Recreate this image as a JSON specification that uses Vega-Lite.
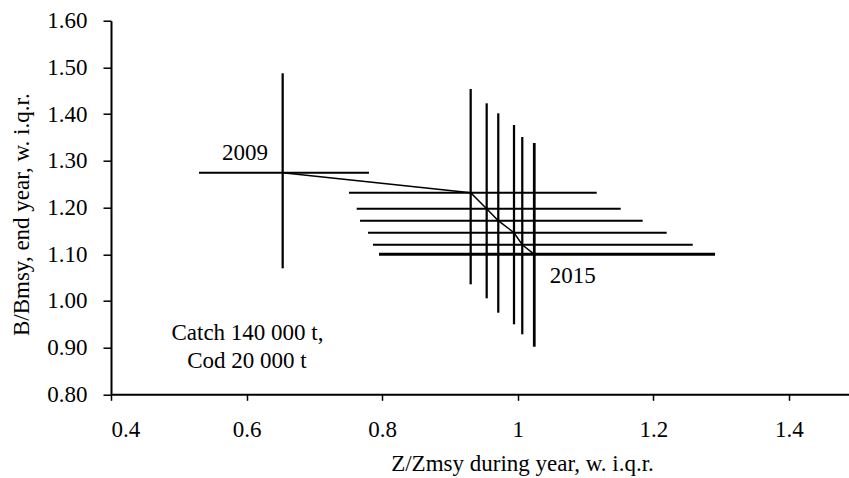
{
  "$schema": "https://vega.github.io/schema/vega-lite/v6.json",
  "width": 738,
  "height": 373.6,
  "autosize": {"type": "none"},
  "padding": {"left": 111, "top": 20.7, "right": 0, "bottom": 83.7},
  "background": "white",
  "config": {
    "view": {"stroke": null},
    "font": "Liberation Serif",
    "axis": {
      "grid": false,
      "domainColor": "black",
      "domainWidth": 2,
      "tickColor": "black",
      "tickWidth": 1.5,
      "labelFont": "Liberation Serif",
      "labelFontSize": 23,
      "labelColor": "black",
      "titleFont": "Liberation Serif",
      "titleFontSize": 23,
      "titleFontWeight": "normal",
      "titleColor": "black"
    }
  },
  "datasets": {
    "years": [
      {"year": 2009, "x": 0.6532, "xlo": 0.5298, "xhi": 0.7805, "y": 1.2745, "ylo": 1.0698, "yhi": 1.4874},
      {"year": 2010, "x": 0.9305, "xlo": 0.7510, "xhi": 1.1164, "y": 1.2317, "ylo": 1.0355, "yhi": 1.4537},
      {"year": 2011, "x": 0.9541, "xlo": 0.7624, "xhi": 1.1518, "y": 1.1974, "ylo": 1.0056, "yhi": 1.4231},
      {"year": 2012, "x": 0.9712, "xlo": 0.7673, "xhi": 1.1842, "y": 1.1717, "ylo": 0.9747, "yhi": 1.4017},
      {"year": 2013, "x": 0.9944, "xlo": 0.7791, "xhi": 1.2196, "y": 1.1460, "ylo": 0.9499, "yhi": 1.3767},
      {"year": 2014, "x": 1.0066, "xlo": 0.7864, "xhi": 1.2580, "y": 1.1203, "ylo": 0.9285, "yhi": 1.3510},
      {"year": 2015, "x": 1.0243, "xlo": 0.7953, "xhi": 1.2909, "y": 1.0998, "ylo": 0.9019, "yhi": 1.3381}
    ],
    "notes": [
      {"label": "2009", "tx": 0.5976, "ty": 1.3017},
      {"label": "2015", "tx": 1.081, "ty": 1.0377},
      {"label": "Catch 140 000 t,", "tx": 0.6013, "ty": 0.9163},
      {"label": "Cod 20 000 t", "tx": 0.6006, "ty": 0.8557}
    ]
  },
  "layer": [
    {
      "data": {"name": "years"},
      "mark": {"type": "rule", "color": "black"},
      "encoding": {
        "x": {
          "field": "xlo", "type": "quantitative",
          "scale": {"domain": [0.4, 1.4885], "nice": false, "zero": false},
          "axis": {
            "values": [0.4, 0.6, 0.8, 1, 1.2, 1.4],
            "format": "~g",
            "tickSize": 6,
            "labelPadding": 18.5,
            "labelBaseline": "top",
            "title": "Z/Zmsy during year, w. i.q.r.",
            "titleX": 411,
            "titleY": 75.7,
            "titleAlign": "center",
            "titleBaseline": "alphabetic"
          }
        },
        "x2": {"field": "xhi"},
        "y": {
          "field": "y", "type": "quantitative",
          "scale": {"domain": [0.8, 1.6], "nice": false, "zero": false},
          "axis": {
            "values": [0.8, 0.9, 1.0, 1.1, 1.2, 1.3, 1.4, 1.5, 1.6],
            "format": ".2f",
            "tickSize": 8,
            "labelPadding": 16,
            "title": "B/Bmsy, end year, w. i.q.r.",
            "titleAngle": -90,
            "titleX": -83,
            "titleY": 193.5,
            "titleAlign": "center",
            "titleBaseline": "alphabetic"
          }
        },
        "strokeWidth": {"condition": {"test": "datum.year === 2015", "value": 3}, "value": 2}
      }
    },
    {
      "data": {"name": "years"},
      "mark": {"type": "rule", "color": "black"},
      "encoding": {
        "x": {"field": "x", "type": "quantitative"},
        "y": {"field": "ylo", "type": "quantitative"},
        "y2": {"field": "yhi"},
        "strokeWidth": {"condition": {"test": "datum.year === 2015", "value": 2.75}, "value": 2.25}
      }
    },
    {
      "data": {"name": "years"},
      "mark": {"type": "line", "color": "black", "strokeWidth": 1.5},
      "encoding": {
        "x": {"field": "x", "type": "quantitative"},
        "y": {"field": "y", "type": "quantitative"},
        "order": {"field": "year", "type": "quantitative"}
      }
    },
    {
      "data": {"name": "notes"},
      "mark": {"type": "text", "font": "Liberation Serif", "fontSize": 23, "color": "black", "align": "center", "baseline": "alphabetic"},
      "encoding": {
        "x": {"field": "tx", "type": "quantitative"},
        "y": {"field": "ty", "type": "quantitative"},
        "text": {"field": "label", "type": "nominal"}
      }
    }
  ]
}
